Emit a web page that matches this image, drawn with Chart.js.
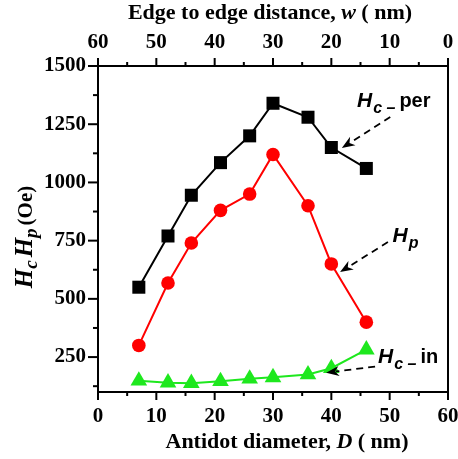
<!DOCTYPE html>
<html>
<head>
<meta charset="utf-8">
<script src="https://cdn.jsdelivr.net/npm/chart.js@4.4.1/dist/chart.umd.min.js"></script>
<style>
  html, body { margin: 0; padding: 0; background: #fff; }
  canvas { display: block; }
</style>
</head>
<body>
<canvas id="chart" width="458" height="459"></canvas>
<script>
// Hc / Hp versus antidot diameter D (bottom) and edge-to-edge distance w (top)
const diameter = [7, 12, 16, 21, 26, 30, 36, 40, 46];
const hcPer = [550, 770, 945, 1085, 1200, 1340, 1280, 1150, 1060];
const hp = [300, 568, 740, 880, 950, 1120, 900, 650, 400];
const hcIn = [148, 140, 138, 146, 157, 163, 175, 202, 282];

const dTicks = [0, 10, 20, 30, 40, 50, 60];
const dMinor = [5, 15, 25, 35, 45, 55];
const wTicks = [60, 50, 40, 30, 20, 10, 0];
const wMinor = [55, 45, 35, 25, 15, 5];
const yTicks = [250, 500, 750, 1000, 1250, 1500];
const yMinor = [125, 375, 625, 875, 1125, 1375];

const SERIF = '"Liberation Serif", "Times New Roman", serif';
const SANS = '"Liberation Sans", Arial, sans-serif';

// draw a row of text pieces with their own fonts, returns total width
function runs(c, x, y, parts, measureOnly){
  let cx = x;
  parts.forEach(p=>{
    c.font = p.font;
    if(!measureOnly) c.fillText(p.t, cx, y + (p.dy || 0));
    cx += c.measureText(p.t).width + (p.gap || 0);
  });
  return cx - x;
}

function arrow(c, x1, y1, x2, y2){
  const a = Math.atan2(y2 - y1, x2 - x1);
  const len = 13, hw = 5;
  const bx = x2 - Math.cos(a) * len, by = y2 - Math.sin(a) * len;
  c.save();
  c.setLineDash([7, 5]);
  c.lineWidth = 1.8;
  c.beginPath(); c.moveTo(x1, y1); c.lineTo(bx + Math.cos(a) * 3, by + Math.sin(a) * 3); c.stroke();
  c.setLineDash([]);
  c.beginPath();
  c.moveTo(x2, y2);
  c.lineTo(bx - Math.sin(a) * hw, by + Math.cos(a) * hw);
  c.lineTo(x2 - Math.cos(a) * len * 0.7, y2 - Math.sin(a) * len * 0.7);
  c.lineTo(bx + Math.sin(a) * hw, by - Math.cos(a) * hw);
  c.closePath(); c.fill();
  c.restore();
}

// annotation labels, in data units (D, Oe)
const labels = [
  {d: 44.4, v: 1324, main: 'H', sub: 'c \u2013', tail: 'per', from: [50.1, 1281], to: [41.8, 1148]},
  {d: 50.5, v: 746, main: 'H', sub: 'p', tail: '', from: [49.7, 744], to: [41.5, 615]},
  {d: 48.0, v: 225, main: 'H', sub: 'c \u2013', tail: 'in', from: [47.5, 209], to: [39.1, 183]}
];

const decor = {
  id: 'decor',
  afterDraw(chart){
    const c = chart.ctx;
    const sx = chart.scales.x, sw = chart.scales.x2, sy = chart.scales.y;
    const area = chart.chartArea;
    c.save();
    c.strokeStyle = '#000'; c.fillStyle = '#000'; c.lineWidth = 2;
    // tick marks
    const vt = (scale, vals, len, edge, dir) => vals.forEach(v=>{
      const p = scale.getPixelForValue(v);
      c.beginPath(); c.moveTo(p, edge); c.lineTo(p, edge + dir * len); c.stroke();
    });
    vt(sx, dTicks, 8, area.bottom, 1); vt(sx, dMinor, 4, area.bottom, 1);
    vt(sw, wTicks, 8, area.top, -1); vt(sw, wMinor, 4, area.top, -1);
    yTicks.forEach(v=>{ const p = sy.getPixelForValue(v); c.beginPath(); c.moveTo(area.left, p); c.lineTo(area.left - 10, p); c.stroke(); });
    yMinor.forEach(v=>{ const p = sy.getPixelForValue(v); c.beginPath(); c.moveTo(area.left, p); c.lineTo(area.left - 5, p); c.stroke(); });

    // axis titles
    c.textBaseline = 'alphabetic'; c.textAlign = 'left';
    const top = [
      {t: 'Edge to edge distance, ', font: 'bold 22px ' + SERIF},
      {t: 'w', font: 'italic bold 22px ' + SERIF},
      {t: ' ( nm)', font: 'bold 22px ' + SERIF}
    ];
    let w = runs(c, 0, 0, top, true);
    runs(c, 270 - w / 2, 19, top);
    const bot = [
      {t: 'Antidot diameter, ', font: 'bold 22px ' + SERIF},
      {t: 'D', font: 'italic bold 22px ' + SERIF},
      {t: ' ( nm)', font: 'bold 22px ' + SERIF}
    ];
    w = runs(c, 0, 0, bot, true);
    runs(c, 287 - w / 2, 448, bot);
    const yt = [
      {t: 'H', font: 'italic bold 25px ' + SERIF},
      {t: 'c', font: 'italic bold 19px ' + SERIF, dy: 5, gap: 3},
      {t: 'H', font: 'italic bold 25px ' + SERIF},
      {t: 'p', font: 'italic bold 19px ' + SERIF, dy: 5, gap: 3},
      {t: '(Oe)', font: 'bold 21px ' + SERIF}
    ];
    w = runs(c, 0, 0, yt, true);
    c.save(); c.translate(32, 237); c.rotate(-Math.PI / 2);
    runs(c, -w / 2, 0, yt);
    c.restore();

    // curve labels with dashed arrows
    labels.forEach(l=>{
      const x = sx.getPixelForValue(l.d), y = sy.getPixelForValue(l.v);
      runs(c, x, y, [
        {t: l.main, font: 'italic bold 21px ' + SANS, gap: 1},
        {t: l.sub, font: 'italic bold 16px ' + SANS, dy: 6, gap: 4},
        {t: l.tail, font: 'bold 20px ' + SANS}
      ]);
      arrow(c, sx.getPixelForValue(l.from[0]), sy.getPixelForValue(l.from[1]),
               sx.getPixelForValue(l.to[0]), sy.getPixelForValue(l.to[1]));
    });
    c.restore();
  }
};

const tickFont = {family: SERIF, size: 21, weight: 'bold'};
const border = {display: true, color: '#000', width: 2};
const plain = v => String(v);
// keep the plot box fixed: no extra room for overhanging tick labels
const noPad = s => { s.paddingLeft = 0; s.paddingRight = 0; s.paddingTop = 0; s.paddingBottom = 0; };

new Chart(document.getElementById('chart'), {
  type: 'line',
  data: {
    datasets: [
      {label: 'Hc per', data: diameter.map((d, i)=>({x: d, y: hcPer[i]})), borderColor: '#000', backgroundColor: '#000',
       borderWidth: 2, pointStyle: 'rect', pointRadius: 9.2, pointBorderWidth: 0},
      {label: 'Hp', data: diameter.map((d, i)=>({x: d, y: hp[i]})), borderColor: '#ff0000', backgroundColor: '#ff0000',
       borderWidth: 2, pointStyle: 'circle', pointRadius: 6.8, pointBorderWidth: 0},
      {label: 'Hc in', data: diameter.map((d, i)=>({x: d, y: hcIn[i]})), borderColor: '#1ee81e', backgroundColor: '#1ee81e',
       borderWidth: 2, pointStyle: 'triangle', pointRadius: 9.6, pointBorderWidth: 0}
    ]
  },
  options: {
    responsive: false, animation: false, devicePixelRatio: 1,
    events: [],
    layout: {padding: 0},
    plugins: {legend: {display: false}, tooltip: {enabled: false}},
    scales: {
      x: {type: 'linear', position: 'bottom', min: 0, max: 60,
          afterBuildTicks: s=>{ s.ticks = dTicks.map(v=>({value: v})); },
          afterFit: s=>{ s.height = 67; noPad(s); },
          grid: {display: false, drawTicks: false}, border,
          ticks: {font: tickFont, color: '#000', padding: 12, maxRotation: 0, callback: plain}},
      x2: {type: 'linear', position: 'top', min: 0, max: 60, reverse: true,
          afterBuildTicks: s=>{ s.ticks = wTicks.map(v=>({value: v})); },
          afterFit: s=>{ s.height = 66; noPad(s); },
          grid: {display: false, drawTicks: false}, border,
          ticks: {font: tickFont, color: '#000', padding: 11, maxRotation: 0, callback: plain}},
      y: {type: 'linear', position: 'left', min: 100, max: 1500,
          afterBuildTicks: s=>{ s.ticks = yTicks.map(v=>({value: v})); },
          afterFit: s=>{ s.width = 98; noPad(s); },
          grid: {display: false, drawTicks: false}, border,
          ticks: {font: tickFont, color: '#000', padding: 12, callback: plain}},
      y2: {type: 'linear', position: 'right', min: 100, max: 1500,
          afterFit: s=>{ s.width = 10; noPad(s); },
          grid: {display: false, drawTicks: false}, border,
          ticks: {display: false}}
    }
  },
  plugins: [decor]
});
</script>
</body>
</html>
